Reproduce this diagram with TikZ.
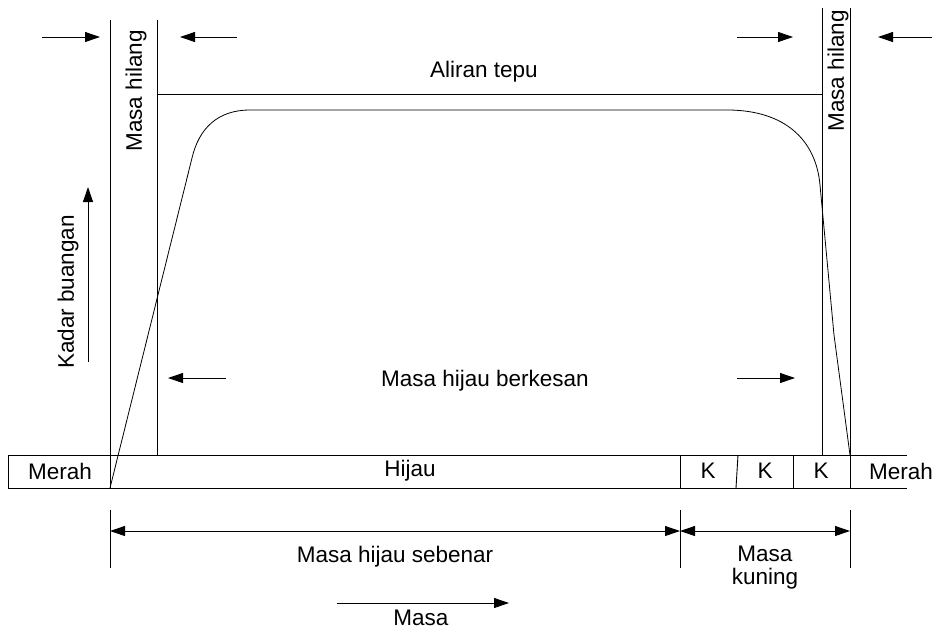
\documentclass[tikz,border=0pt]{standalone}
\usepackage{fontspec}
\setmainfont{Liberation Sans}
\usetikzlibrary{arrows.meta}

\begin{document}
\begin{tikzpicture}[x=1pt,y=-1pt,line width=0.9pt,
        lbl/.style={font=\fontsize{22.5}{25}\selectfont,inner sep=0pt},
        pfeil/.style={-{Triangle[length=15pt,width=10pt]}},
        dua/.style={{Triangle[length=15pt,width=10pt]}-{Triangle[length=15pt,width=10pt]}}]
        \useasboundingbox (0,0) rectangle (935,630);
        % bar
        \draw (907,455) -- (8,455) -- (8,488) -- (907,488);
        \draw (110,455) -- (110,488);
        \draw (680,455) -- (680,488);
        \draw (738,455) -- (736,488);
        \draw (793,455) -- (793,488);
        \node[lbl] (m1) at (60,471) {Merah};
        \node[lbl] (h) at (410,471) {Hijau};
        \node[lbl] (k1) at (708,471) {K};
        \node[lbl] (k2) at (765,471) {K};
        \node[lbl] (k3) at (821,471) {K};
        \node[lbl] (m2) at (901,471) {Merah};
        % vertical lines
        \draw (110,20) -- (110,488);
        \draw (157,20) -- (157,455);
        \draw (822,8) -- (822,455);
        \draw (850,8) -- (850,488);
        \node[lbl,rotate=90] (hl1) at (136,91) {Masa hilang};
        \node[lbl,rotate=90] (hl2) at (838,71) {Masa hilang};
        % saturation
        \draw (157,94) -- (822,94);
        \node[lbl] (at) at (484,72) {Aliran tepu};
        % curve
        \draw[line width=0.8pt] (110,488) -- (192,158) .. controls (199,128) and (218,110) .. (250,110)
            -- (727,110) .. controls (785,110) and (816,140) .. (820,185) -- (834,335) -- (850,455);
        % top arrows
        \draw[pfeil] (42,37) -- (100,37);
        \draw[pfeil] (237,37) -- (180,37);
        \draw[pfeil] (737,37) -- (793,37);
        \draw[pfeil] (932,37) -- (878,37);
        % effective
        \node[lbl] (mhb) at (485,381) {Masa hijau berkesan};
        \draw[pfeil] (226,378) -- (168,378);
        \draw[pfeil] (737,378) -- (795,378);
        % y axis
        \draw[pfeil] (88,362) -- (88,187);
        \node[lbl,rotate=90] (kb) at (68,292) {Kadar buangan};
        % dimensions
        \draw (110,510) -- (110,568);
        \draw (680,510) -- (680,568);
        \draw (850,510) -- (850,568);
        \draw[dua] (110,531) -- (680,531);
        \draw[dua] (680,531) -- (850,531);
        \node[lbl] (mhs) at (395,557) {Masa hijau sebenar};
        \node[lbl,align=center] (mk) at (765,568) {Masa\\[-2pt]kuning};
        % x axis
        \draw[pfeil] (337,603) -- (509,603);
        \node[lbl] (ms) at (421,618) {Masa};
    \end{tikzpicture}
\end{document}
